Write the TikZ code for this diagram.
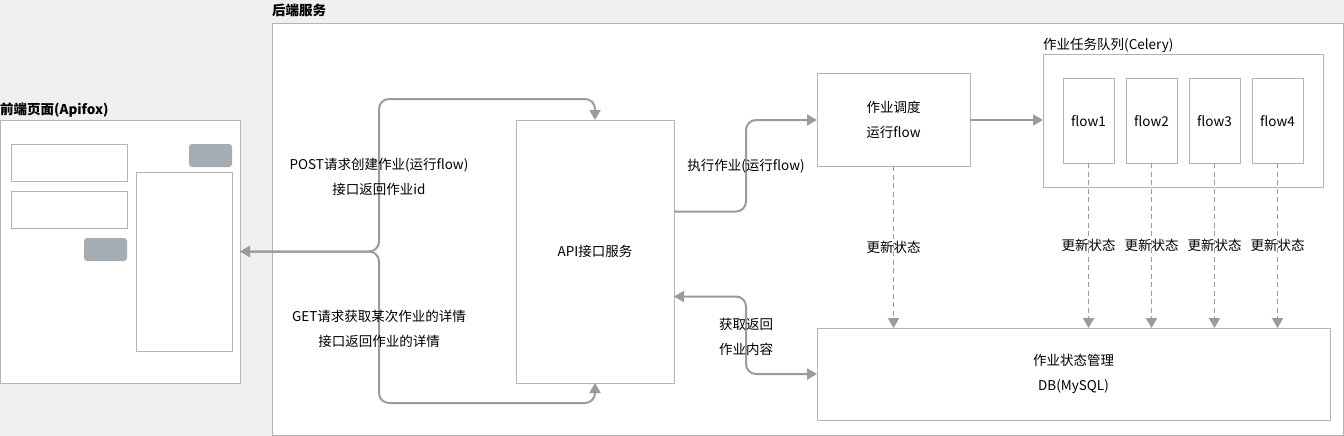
\documentclass[tikz,border=0pt]{standalone}
\usepackage{fontspec}
\setmainfont{Noto Sans CJK SC}
\usepackage{tikz}
\usetikzlibrary{arrows.meta,positioning}

\definecolor{canvas}{HTML}{EFF0F2}
\definecolor{rim}{HTML}{B4B4B4}
\definecolor{wire}{HTML}{9B9B9B}
\definecolor{knob}{HTML}{A5ACB2}

\begin{document}
\begin{tikzpicture}[x=1pt,y=-1pt,
			font=\fontsize{13.5}{25}\selectfont,
			>={Triangle[length=10pt,width=11pt]},
			box/.style={draw=rim,fill=white,line width=1pt,inner sep=0pt,outer sep=0pt,anchor=north west,align=center},
			knobbox/.style={fill=knob,rounded corners=3pt,inner sep=0pt,outer sep=0pt,anchor=north west},
			title/.style={font=\fontsize{13.5}{16}\selectfont\bfseries,anchor=west,inner sep=0pt},
			caption/.style={align=center,inner sep=0pt},
			link/.style={draw=wire,line width=2pt,rounded corners=10pt},
			status/.style={draw=wire,line width=1.9pt,dash pattern=on 5pt off 3.5pt}]
			\fill[canvas] (0,0) rectangle (1344,436);
			\useasboundingbox (0,0) rectangle (1344,436);
			\node[box,minimum width=1071pt,minimum height=412pt] (backend) at (272.5,23.5) {};
			\node[title] (backendtitle) at (272,10) {后端服务};
			\node[box,minimum width=240pt,minimum height=263pt] (fe) at (0,120) {};
			\node[title] (fetitle) at (0,110) {前端页面(Apifox)};
			\node[box,minimum width=116pt,minimum height=37pt] (inputa) at (11,144) {};
			\node[box,minimum width=116pt,minimum height=37pt,below=10pt of inputa] (inputb) {};
			\node[box,minimum width=96pt,minimum height=179pt] (result) at (136,172) {};
			\node[knobbox,minimum width=43pt,minimum height=23pt] (btna) at (189,144) {};
			\node[knobbox,minimum width=43pt,minimum height=23pt] (btnb) at (84,238) {};
			\node[box,minimum width=158pt,minimum height=263pt] (api) at (516,120) {API接口服务};
			\node[box,minimum width=153pt,minimum height=92pt] (sched) at (817,74) {作业调度\\运行flow};
			\node[box,minimum width=280pt,minimum height=132pt] (queue) at (1043,55) {};
			\node[caption,anchor=west] (queuetitle) at (1043,45) {作业任务队列(Celery)};
			\foreach \i in {1,...,4}
				\node[box,minimum width=51pt,minimum height=84pt] (flow\i) at ({1063+63*(\i-1)},79) {flow\i};
			\node[box,minimum width=513pt,minimum height=92pt] (db) at (817,328) {作业状态管理\\DB(MySQL)};
			\coordinate (fork) at (379,252);
			\draw[link,<->] (fe.east) -- (fe.east -| fork) |- ([yshift=21pt]api.north) -- (api.north);
			\draw[link,<->] (fe.east) -- (fe.east -| fork) |- ([yshift=-20pt]api.south) -- (api.south);
			\draw[link,->] ([yshift=40pt]api.east) -- ++(72,0) |- (sched.west);
			\draw[link,<->] ([yshift=-45pt]api.east) -- ++(72,0) |- (db.west);
			\draw[link,->] (sched.east) -- (sched.east -| queue.west);
			\draw[status,->] (sched.south) -- (sched.south |- db.north) node[midway] {更新状态};
			\foreach \i in {1,...,4}
				\draw[status,->] (flow\i.south) -- (flow\i.south |- db.north) node[midway] {更新状态};
			\node[caption] (postlabel) at (379,176.5) {POST请求创建作业(运行flow)\\接口返回作业id};
			\node[caption] (getlabel) at (379,328.5) {GET请求获取某次作业的详情\\接口返回作业的详情};
			\node[caption] (runlabel) at (746,166) {执行作业(运行flow)};
			\node[caption] (fetchlabel) at (746,336.5) {获取返回\\作业内容};
		\end{tikzpicture}
\end{document}
